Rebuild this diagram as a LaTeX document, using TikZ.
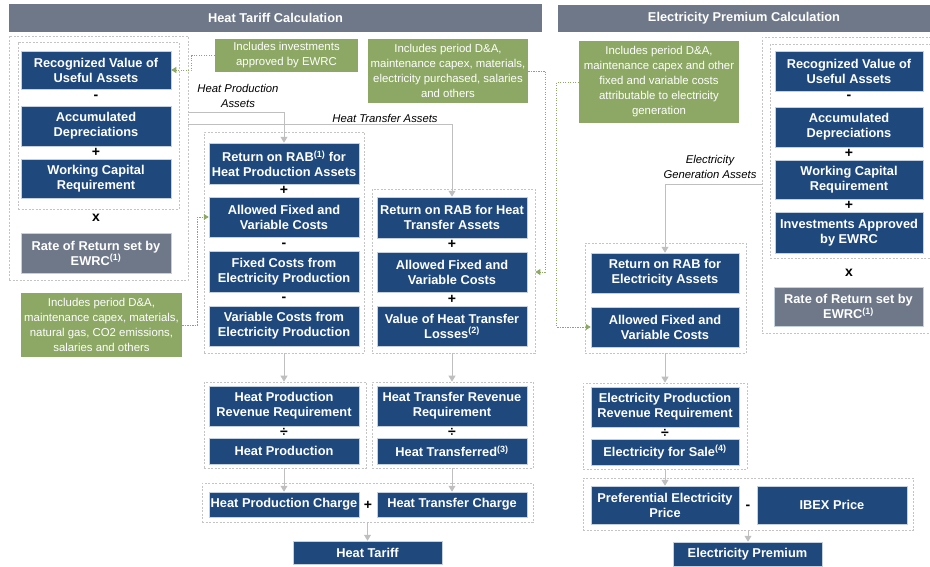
\documentclass[tikz,border=0pt]{standalone}
\usepackage{fontspec}
\setmainfont{Liberation Sans}
\usetikzlibrary{arrows.meta}
\definecolor{navy}{HTML}{1F497D}
\definecolor{navyedge}{HTML}{C5D0DF}
\definecolor{slate}{HTML}{6E7889}
\definecolor{olivebox}{HTML}{8DA865}
\definecolor{dashgray}{HTML}{C4C4C4}
\definecolor{conngray}{HTML}{BFBFBF}
\tikzset{
 bbox/.style={fill=navy, draw=navyedge, line width=0.5pt, text=white, font=\fontsize{12.8}{15}\selectfont\bfseries, align=center, inner sep=0pt},
 gbox/.style={bbox, fill=slate},
 grp/.style={draw=dashgray, dash pattern=on 2pt off 1.5pt, line width=0.7pt, inner sep=0pt},
 note/.style={fill=olivebox, text=white, font=\fontsize{11.4}{15}\selectfont, align=center, inner sep=0pt},
 hdr/.style={fill=slate, text=white, font=\fontsize{12.8}{15}\selectfont\bfseries, inner sep=0pt},
 conn/.style={draw=conngray, line width=1pt, -{Triangle[length=6pt,width=7pt]}},
 nconn/.style={draw=olivebox, line width=0.9pt, dash pattern=on 1.3pt off 1.2pt, -{Triangle[length=5pt,width=6pt]}},
 op/.style={font=\fontsize{14}{14}\selectfont\bfseries, inner sep=0pt},
 lbl/.style={font=\fontsize{11.3}{15}\selectfont\itshape, align=center, inner sep=0pt},
}
\newcommand\placebox[7][bbox]{\node[#1, minimum width={#5-#3}, minimum height={#6-#4}] (#2) at ({(#3+#5)/2},{(#4+#6)/2}) {#7};}
\begin{document}
\begin{tikzpicture}[x=1pt,y=-1pt]
\useasboundingbox (0,0) rectangle (930,566);
% headers
\placebox[hdr]{h1}{9}{4}{542}{32}{Heat Tariff Calculation}
\placebox[hdr]{h2}{558}{5}{930}{32}{Electricity Premium Calculation}
% left asset group
\placebox[grp]{lout}{9}{36}{188}{280}{}
\placebox[grp]{lin}{18}{42}{179}{209}{}
\placebox{lrv}{21}{51}{171}{89}{Recognized Value of\\Useful Assets}
\node[op] (o1) at (96,97) {-};
\placebox{lacc}{21}{106}{171}{146}{Accumulated\\Depreciations}
\node[op] (o2) at (96,152) {+};
\placebox{lwc}{21}{159}{171}{198}{Working Capital\\Requirement}
\node[op] (o3) at (96,218) {x};
\placebox[gbox]{lrr}{21}{233}{171}{273}{Rate of Return set by\\EWRC\textsuperscript{(1)}}
% notes
\placebox[note]{n1}{215}{39}{358}{72}{Includes investments\\approved by EWRC}
\placebox[note]{n2}{368}{39}{528}{103}{Includes period D\&A,\\maintenance capex, materials,\\electricity purchased, salaries\\and others}
\placebox[note]{n3}{579}{41}{739}{123}{Includes period D\&A,\\maintenance capex and other\\fixed and variable costs\\attributable to electricity\\generation}
\placebox[note]{n4}{21}{293}{182}{357}{Includes period D\&A,\\maintenance capex, materials,\\natural gas, CO2 emissions,\\salaries and others}
% heat production group
\placebox[grp]{hpg}{204}{132}{364}{353}{}
\placebox{rabhp}{209}{143}{359}{184}{Return on RAB\textsuperscript{(1)} for\\Heat Production Assets}
\node[op] (o4) at (284,190) {+};
\placebox{afvc1}{209}{197}{359}{237}{Allowed Fixed and\\Variable Costs}
\node[op] (o5) at (284,245) {-};
\placebox{fcep}{209}{251}{359}{292}{Fixed Costs from\\Electricity Production}
\node[op] (o6) at (284,299) {-};
\placebox{vcep}{209}{306}{359}{346}{Variable Costs from\\Electricity Production}
% heat transfer group
\placebox[grp]{htg}{372}{189}{535}{353}{}
\placebox{rabht}{377}{197}{527}{238}{Return on RAB for Heat\\Transfer Assets}
\node[op] (o7) at (452,244) {+};
\placebox{afvc2}{377}{252}{527}{292}{Allowed Fixed and\\Variable Costs}
\node[op] (o8) at (452,299) {+};
\placebox{vhtl}{377}{306}{527}{346}{Value of Heat Transfer\\Losses\textsuperscript{(2)}}
% electricity middle group
\placebox[grp]{elg}{585}{243}{746}{353}{}
\placebox{rabe}{591}{253}{739}{293}{Return on RAB for\\Electricity Assets}
\placebox{afvc3}{591}{307}{739}{347}{Allowed Fixed and\\Variable Costs}
% right asset group (right edges run off the page)
\placebox[grp]{rout}{762}{37}{940}{333}{}
\placebox[grp]{rin}{770}{44}{936}{258}{}
\placebox{rrv}{775}{51}{923}{91}{Recognized Value of\\Useful Assets}
\node[op] (o9) at (849,97) {-};
\placebox{racc}{775}{107}{923}{147}{Accumulated\\Depreciations}
\node[op] (o10) at (849,153) {+};
\placebox{rwc}{775}{160}{923}{199}{Working Capital\\Requirement}
\node[op] (o11) at (849,205) {+};
\placebox{rinv}{775}{212}{923}{253}{Investments Approved\\by EWRC}
\node[op] (o12) at (849,273) {x};
\placebox[gbox]{rrr}{774}{287}{923}{326}{Rate of Return set by\\EWRC\textsuperscript{(1)}}
% lower heat
\placebox[grp]{hprrg}{204}{382}{366}{468}{}
\placebox{hprr}{209}{386}{359}{426}{Heat Production\\Revenue Requirement}
\node[op] (o13) at (284,432) {÷};
\placebox{hp}{209}{438}{359}{464}{Heat Production}
\placebox[grp]{htrrg}{372}{382}{533}{468}{}
\placebox{htrr}{377}{386}{527}{426}{Heat Transfer Revenue\\Requirement}
\node[op] (o14) at (452,432) {÷};
\placebox{ht}{377}{438}{527}{464}{Heat Transferred\textsuperscript{(3)}}
\placebox[grp]{chg}{202}{483}{533}{522}{}
\placebox{hpc}{209}{492}{359}{517}{Heat Production Charge}
\node[op] (o15) at (368,505) {+};
\placebox{htc}{377}{492}{527}{517}{Heat Transfer Charge}
\placebox{htar}{293}{541}{442}{564}{Heat Tariff}
% lower electricity
\placebox[grp]{eprrg}{583}{383}{747}{469}{}
\placebox{eprr}{591}{387}{739}{427}{Electricity Production\\Revenue Requirement}
\node[op] (o16) at (665,433) {÷};
\placebox{efs}{591}{439}{739}{465}{Electricity for Sale\textsuperscript{(4)}}
\placebox[grp]{prg}{583}{478}{913}{530}{}
\placebox{pep}{591}{486}{739}{524}{Preferential Electricity\\Price}
\node[op] (o17) at (748,507) {-};
\placebox{ibex}{757}{486}{907}{524}{IBEX Price}
\placebox{eprem}{673}{542}{822}{566}{Electricity Premium}
% labels
\node[lbl] (lhpa) at (238,96) {Heat Production\\Assets};
\node[lbl] (lhta) at (385,118) {Heat Transfer Assets};
\node[lbl] (lega) at (710,167) {Electricity\\Generation Assets};
% gray connectors
\coordinate (hpa) at (188,112);
\coordinate (hta) at (188,124);
\coordinate (ega) at (762,184);
\draw[conn] (hpa) -| (rabhp.north);
\draw[conn] (hta) -| (rabht.north);
\draw[conn] (ega) -| (rabe.north);
\draw[conn] (vcep.south |- hpg.south) -- (vcep.south |- hprrg.north);
\draw[conn] (vhtl.south |- htg.south) -- (vhtl.south |- htrrg.north);
\draw[conn] (afvc3.south |- elg.south) -- (afvc3.south |- eprrg.north);
\draw[conn] (hp.south |- hprrg.south) -- (hpc.north);
\draw[conn] (ht.south |- htrrg.south) -- (htc.north);
\draw[conn] (chg.south) -- (htar.north);
\draw[conn] (efs.south |- eprrg.south) -- (pep.north);
\draw[conn] (prg.south) -- (prg.south |- eprem.north);
% green dotted connectors
\draw[nconn] (n1.west) -- ++(-23,0) |- (lrv.east);
\draw[nconn] (n2.east) -- ++(17,0) |- (afvc2.east -| htg.east);
\draw[nconn] (n3.west) -- ++(-22,0) |- (afvc3.west);
\draw[nconn] (n4.east) -- ++(15,0) |- (afvc1.west);
\end{tikzpicture}
\end{document}
